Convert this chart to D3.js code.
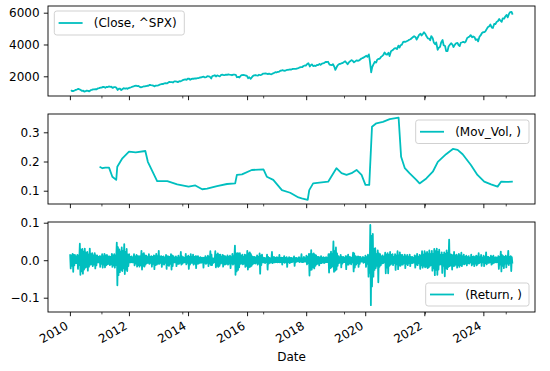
<!DOCTYPE html>
<html><head><meta charset="utf-8">
<script src="https://cdn.jsdelivr.net/npm/d3@7"></script>
<style>body{margin:0;background:#fff} svg text{font-family:"DejaVu Sans",sans-serif;}</style>
</head><body><svg id="c" width="550" height="371"></svg>
<script>
// ---------------- DATA ----------------
const firstDate = "2010-01-04", lastDate = "2024-12-31";
const startYear = 2010;
// S&P 500 close, two readings per month [mid, end], one row per year 2010..2024
const closeSPX = [
 [1136,1074],[1075,1104],[1150,1169],[1211,1187],[1136,1089],[1092,1031],[1065,1102],[1079,1049],[1125,1141],[1176,1183],[1199,1181],[1242,1258],
 [1293,1286],[1332,1327],[1281,1326],[1320,1364],[1338,1345],[1268,1321],[1316,1292],[1140,1219],[1216,1131],[1200,1253],[1216,1247],[1212,1258],
 [1290,1312],[1351,1366],[1403,1408],[1385,1398],[1330,1310],[1330,1362],[1360,1379],[1405,1407],[1460,1441],[1433,1412],[1370,1416],[1418,1426],
 [1472,1498],[1520,1515],[1560,1569],[1552,1598],[1650,1631],[1640,1606],[1680,1686],[1661,1633],[1688,1682],[1721,1757],[1791,1806],[1781,1848],
 [1845,1783],[1838,1859],[1846,1872],[1862,1884],[1888,1924],[1937,1960],[1973,1931],[1955,2003],[1999,1972],[1862,2018],[2039,2068],[1990,2059],
 [2020,1995],[2096,2105],[2081,2068],[2106,2086],[2123,2107],[2096,2063],[2107,2104],[2091,1940],[1966,1920],[2033,2079],[2083,2080],[2043,2044],
 [1880,1940],[1840,1932],[2027,2060],[2081,2065],[2047,2097],[2071,2099],[2163,2174],[2185,2171],[2139,2168],[2133,2126],[2180,2199],[2262,2239],
 [2275,2279],[2349,2364],[2385,2363],[2349,2384],[2400,2412],[2437,2423],[2459,2470],[2465,2472],[2500,2519],[2557,2575],[2585,2648],[2680,2674],
 [2776,2824],[2620,2714],[2750,2641],[2670,2648],[2720,2705],[2780,2718],[2800,2816],[2840,2902],[2900,2914],[2750,2712],[2700,2760],[2600,2400],
 [2600,2704],[2775,2784],[2822,2834],[2905,2946],[2850,2752],[2890,2942],[3014,2980],[2880,2926],[3005,2977],[2990,3038],[3120,3141],[3190,3231],
 [3290,3226],[3380,2954],[2250,2585],[2780,2912],[2860,3044],[3100,3100],[3220,3271],[3370,3500],[3380,3363],[3480,3270],[3580,3622],[3690,3756],
 [3770,3714],[3930,3811],[3960,3973],[4170,4181],[4170,4204],[4250,4298],[4330,4395],[4470,4523],[4460,4308],[4470,4605],[4680,4567],[4670,4766],
 [4660,4516],[4380,4374],[4260,4530],[4390,4132],[4010,4132],[3670,3785],[3860,4130],[4280,3955],[3900,3586],[3580,3872],[4000,4080],[3990,3840],
 [3990,4077],[4100,3970],[3900,4109],[4140,4169],[4120,4180],[4410,4450],[4510,4589],[4460,4508],[4450,4288],[4330,4194],[4500,4568],[4720,4770],
 [4780,4846],[5000,5096],[5150,5254],[5060,5036],[5300,5278],[5430,5460],[5600,5522],[5430,5648],[5630,5762],[5860,5705],[5950,6032],[6050,5882]
];
// rolling annualised volatility readings [date, value]
const movVol = [
 ["2011-01-03",0.182],["2011-02-07",0.177],["2011-03-15",0.179],["2011-04-30",0.179],["2011-06-10",0.148],["2011-07-28",0.137],
 ["2011-08-10",0.182],["2011-10-12",0.211],["2012-01-02",0.234],["2012-03-25",0.231],["2012-07-22",0.236],["2012-08-22",0.199],
 ["2012-12-15",0.133],["2013-04-20",0.133],["2013-08-20",0.122],["2014-01-08",0.114],["2014-04-01",0.118],["2014-06-25",0.105],
 ["2014-08-25",0.107],["2014-12-25",0.116],["2015-04-28",0.123],["2015-08-07",0.125],["2015-08-28",0.154],["2015-10-30",0.156],
 ["2016-02-28",0.171],["2016-07-22",0.173],["2016-09-01",0.148],["2016-11-20",0.137],["2017-03-07",0.102],["2017-06-17",0.093],
 ["2017-09-28",0.077],["2017-11-07",0.074],["2018-01-20",0.069],["2018-02-08",0.102],["2018-03-28",0.125],["2018-09-30",0.131],
 ["2019-01-10",0.177],["2019-03-14",0.160],["2019-05-15",0.154],["2019-07-16",0.160],["2019-09-16",0.171],["2019-11-17",0.154],
 ["2020-01-04",0.120],["2020-02-20",0.120],["2020-03-25",0.319],["2020-05-18",0.331],["2020-08-07",0.336],["2020-10-30",0.345],
 ["2021-02-17",0.350],["2021-03-20",0.216],["2021-05-05",0.177],["2021-07-01",0.160],["2021-09-24",0.137],["2021-11-03",0.125],
 ["2022-01-26",0.142],["2022-04-16",0.165],["2022-06-17",0.199],["2022-09-27",0.225],["2022-12-20",0.243],["2023-02-17",0.240],
 ["2023-04-20",0.225],["2023-07-31",0.188],["2023-10-20",0.154],["2024-01-12",0.131],["2024-04-05",0.122],["2024-06-25",0.114],
 ["2024-08-07",0.131],["2024-10-08",0.130],["2024-12-30",0.131]
];
// daily return readings in %, four per month (weekly), one row per year
const returnPct = [
 1.6,-2.2,1.3,-1.5, 1.7,-3.1,1.4,-1.4, 1.4,-0.8,1.0,-0.8, 1.4,-2.3,1.2,-1.3, 4.4,-3.9,2.8,-3.0, 3.0,-3.6,2.3,-2.5, 3.1,-2.0,2.0,-1.8, 2.2,-2.8,1.5,-1.7, 3.1,-1.2,1.6,-1.1, 1.9,-1.6,1.3,-1.2, 1.9,-2.2,1.3,-1.4, 1.3,-0.6,0.9,-0.6,
 1.1,-1.8,1.0,-1.0, 1.6,-2.0,1.0,-1.2, 1.7,-1.9,1.3,-1.4, 1.4,-1.1,1.0,-1.0, 1.0,-1.3,0.9,-1.1, 1.7,-1.8,1.3,-1.4, 1.6,-2.0,1.2,-1.3, 4.7,-6.7,3.5,-4.0, 2.9,-3.2,2.3,-2.6, 3.4,-2.9,2.5,-2.2, 4.3,-3.7,2.2,-2.5, 3.0,-2.9,1.5,-1.6,
 1.6,-0.6,0.9,-0.6, 1.0,-0.6,0.7,-0.6, 1.6,-1.4,1.0,-0.9, 1.4,-1.7,1.1,-1.3, 1.1,-1.7,1.0,-1.3, 2.5,-2.5,1.6,-1.5, 1.9,-1.7,1.3,-1.2, 1.2,-0.8,0.8,-0.7, 1.6,-1.0,0.9,-0.7, 1.1,-1.7,0.9,-1.0, 1.3,-2.4,1.1,-1.3, 1.7,-1.2,1.0,-0.9,
 2.5,-1.0,1.0,-0.7, 1.1,-1.8,0.9,-1.0, 1.0,-1.2,0.7,-0.7, 1.4,-2.3,1.1,-1.3, 1.0,-1.5,0.9,-1.0, 1.6,-2.5,1.3,-1.6, 1.1,-0.6,0.7,-0.6, 1.0,-1.6,0.7,-1.0, 1.2,-1.0,0.7,-0.7, 2.2,-1.2,1.0,-0.9, 0.8,-0.6,0.6,-0.6, 1.7,-1.1,0.9,-0.7,
 1.2,-2.3,0.9,-1.2, 1.6,-0.7,0.9,-0.7, 1.5,-1.2,0.9,-0.9, 1.1,-2.1,1.0,-1.0, 1.1,-0.9,0.7,-0.7, 0.8,-0.7,0.6,-0.6, 0.7,-2.0,0.6,-0.7, 1.1,-1.0,0.7,-0.7, 1.2,-1.6,0.9,-0.9, 2.4,-1.3,1.5,-1.3, 0.5,-0.7,0.5,-0.5, 2.4,-1.9,1.5,-1.5,
 1.8,-1.8,1.5,-1.5, 1.5,-0.9,0.9,-0.7, 1.4,-1.7,1.2,-1.2, 1.1,-1.1,0.8,-0.9, 1.3,-1.2,0.9,-0.9, 1.2,-2.1,0.8,-0.9, 1.7,-1.2,1.0,-0.9, 3.9,-3.9,1.8,-3.0, 1.9,-2.6,1.8,-1.9, 1.9,-1.0,1.2,-0.9, 1.5,-1.1,0.9,-0.9, 1.5,-1.8,1.3,-1.5,
 2.5,-2.5,1.8,-1.9, 2.1,-1.7,1.6,-1.5, 1.0,-1.1,0.9,-0.8, 0.9,-0.9,0.7,-0.7, 1.3,-1.2,0.9,-0.9, 1.8,-3.6,1.2,-1.3, 1.5,-0.6,0.7,-0.6, 0.6,-0.8,0.5,-0.5, 1.5,-2.5,0.9,-0.9, 0.6,-0.7,0.5,-0.6, 2.2,-0.8,0.9,-0.6, 0.8,-0.6,0.6,-0.5,
 0.8,-0.6,0.6,-0.5, 1.4,-0.6,0.6,-0.5, 0.7,-1.2,0.6,-0.5, 1.1,-0.7,0.6,-0.5, 0.8,-1.8,0.5,-0.5, 0.8,-0.8,0.6,-0.6, 0.6,-0.5,0.5,-0.4, 1.0,-1.5,0.6,-0.6, 0.6,-0.3,0.5,-0.3, 0.8,-0.5,0.5,-0.4, 1.6,-0.5,0.5,-0.5, 0.9,-0.4,0.5,-0.4,
 1.2,-1.1,0.9,-0.8, 1.7,-4.1,1.6,-2.6, 2.7,-2.5,1.6,-1.9, 1.8,-2.2,1.5,-1.5, 1.3,-1.1,0.9,-0.9, 0.9,-1.4,0.7,-0.8, 1.1,-0.8,0.7,-0.6, 0.8,-0.8,0.6,-0.6, 0.8,-0.5,0.6,-0.5, 1.6,-3.3,1.6,-2.1, 2.3,-1.9,1.6,-1.6, 5.0,-3.1,2.4,-2.8,
 3.4,-2.5,1.8,-1.5, 1.1,-0.8,0.7,-0.6, 1.4,-1.9,0.9,-0.9, 0.9,-0.5,0.6,-0.5, 1.1,-2.4,1.0,-1.2, 1.5,-1.2,0.9,-0.8, 0.8,-1.1,0.6,-0.6, 2.0,-3.0,1.8,-2.0, 1.1,-1.2,0.8,-0.8, 1.0,-1.8,0.9,-1.0, 0.9,-0.4,0.5,-0.4, 0.9,-0.7,0.6,-0.5,
 1.2,-1.8,0.8,-1.0, 1.5,-4.4,1.2,-3.4, 9.4,-12.0,6.5,-7.0, 7.0,-4.4,3.0,-2.6, 3.2,-2.1,1.6,-1.5, 2.6,-5.9,1.8,-1.8, 1.6,-1.4,1.0,-0.9, 1.3,-0.8,0.9,-0.6, 2.0,-3.5,1.5,-2.0, 1.9,-3.5,1.4,-1.5, 2.2,-1.2,1.4,-0.9, 1.6,-1.3,0.9,-0.8,
 1.6,-2.6,1.2,-1.1, 2.4,-2.4,1.2,-1.4, 2.1,-1.5,1.4,-1.2, 1.4,-1.2,0.8,-0.8, 1.5,-2.1,1.0,-1.0, 1.4,-1.3,0.8,-0.8, 1.5,-1.6,0.9,-0.8, 0.9,-0.8,0.6,-0.6, 1.3,-2.0,1.0,-1.2, 1.7,-1.3,0.9,-0.8, 1.4,-2.3,1.2,-1.4, 2.4,-2.0,1.5,-1.5,
 2.4,-1.9,1.8,-1.7, 2.2,-2.1,1.6,-1.9, 2.6,-1.5,1.6,-1.3, 2.5,-2.8,1.6,-2.2, 3.0,-4.0,2.4,-2.6, 3.1,-3.9,2.2,-2.5, 2.8,-1.2,1.4,-1.1, 2.1,-3.4,1.4,-1.5, 2.1,-4.3,1.7,-2.1, 2.6,-2.4,1.9,-1.8, 5.5,-1.6,1.6,-1.3, 1.5,-2.5,1.3,-1.6,
 2.2,-1.5,1.3,-1.2, 1.5,-2.0,1.0,-1.3, 1.7,-1.8,1.3,-1.3, 2.0,-1.6,1.0,-1.0, 1.5,-1.1,0.9,-0.9, 1.2,-1.4,0.8,-0.8, 1.1,-0.9,0.6,-0.6, 1.5,-1.4,0.9,-1.0, 1.0,-1.6,0.8,-0.9, 1.2,-1.4,1.0,-1.0, 1.9,-0.8,0.8,-0.6, 1.4,-1.5,0.7,-0.6,
 1.2,-1.6,0.8,-0.8, 2.1,-1.1,0.9,-0.7, 0.9,-0.7,0.6,-0.6, 1.2,-1.2,0.9,-0.9, 1.2,-0.7,0.7,-0.6, 0.8,-0.6,0.6,-0.5, 1.1,-2.3,0.9,-1.2, 2.3,-3.0,1.4,-1.5, 1.1,-2.1,0.9,-0.9, 1.2,-1.9,0.8,-0.9, 2.5,-1.3,0.9,-0.8, 1.1,-2.9,0.8,-0.9
];
const closeTicks = [2000, 4000, 6000];
const volTicks = [0.1, 0.2, 0.3];
const retTicks = [-0.1, 0.0, 0.1];
const yearTicks = [2010, 2012, 2014, 2016, 2018, 2020, 2022, 2024];
const minorDayTicks = [15000, 16000, 17000, 18000, 19000, 20000]; // days since 1970-01-01
const closeLimits = [761, 6421];
const volLimits = [0.0545, 0.3627];
const retLimits = [-0.1381, 0.1019];
const legendLabels = ["(Close, ^SPX)", "(Mov_Vol, )", "(Return, )"];
const xLabel = "Date";

// ---------------- CHART ----------------
const color = "#00bfbf";
const svg = d3.select("#c");
const L = 48, R = 535;
const panels = [{top: 6, bottom: 96}, {top: 114, bottom: 204}, {top: 222, bottom: 312}];
const parse = d3.utcParse("%Y-%m-%d");
const d0 = parse(firstDate), d1 = parse(lastDate);
const span = d1 - d0;
const x = d3.scaleUtc().domain([new Date(+d0 - span * 0.05), new Date(+d1 + span * 0.05)]).range([L, R]);

const closeData = [];
closeSPX.forEach((pair, i) => {
  const yr = startYear + Math.floor(i / 12), m = i % 12;
  closeData.push({d: new Date(Date.UTC(yr, m, 15)), v: pair[0]});
  closeData.push({d: new Date(Date.UTC(yr, m, 28)), v: pair[1]});
});
const volData = movVol.map(([d, v]) => ({d: parse(d), v}));
const retData = returnPct.map((v, i) => {
  const mi = Math.floor(i / 4), k = i % 4;
  const yr = startYear + Math.floor(mi / 12), m = mi % 12;
  return {d: new Date(Date.UTC(yr, m, 4 + 7 * k)), v: v / 100};
});

const specs = [
  {data: closeData, lim: closeLimits, ticks: closeTicks, fmt: d3.format("d")},
  {data: volData, lim: volLimits, ticks: volTicks, fmt: d3.format(".1f")},
  {data: retData, lim: retLimits, ticks: retTicks, fmt: d3.format(".1f")}
];

const majorDates = yearTicks.map(y => new Date(Date.UTC(y, 0, 1)));
const minorDates = minorDayTicks.map(n => new Date(n * 86400000));

specs.forEach((s, i) => {
  const p = panels[i];
  const y = d3.scaleLinear().domain(s.lim).range([p.bottom, p.top]);
  const g = svg.append("g");
  g.append("path").datum(s.data)
    .attr("fill", "none").attr("stroke", color).attr("stroke-width", 1.8)
    .attr("stroke-linejoin", "round")
    .attr("d", d3.line().x(d => x(d.d)).y(d => y(d.v)));
  const ya = g.append("g").attr("transform", `translate(${L},0)`)
    .call(d3.axisLeft(y).tickValues(s.ticks).tickFormat(s.fmt).tickSize(4.2).tickPadding(4.2));
  ya.select(".domain").remove();
  ya.selectAll("line").attr("stroke", "#000").attr("stroke-width", 0.9);
  ya.selectAll("text").attr("font-size", 12).attr("fill", "#000").attr("font-family", "DejaVu Sans");
  const xa = g.append("g").attr("transform", `translate(0,${p.bottom})`)
    .call(d3.axisBottom(x).tickValues(majorDates).tickFormat(d3.utcFormat("%Y")).tickSize(4.2).tickPadding(4.2));
  xa.select(".domain").remove();
  xa.selectAll("line").attr("stroke", "#000").attr("stroke-width", 0.9);
  if (i < 2) {
    xa.selectAll("text").remove();
  } else {
    xa.selectAll("text")
      .attr("font-size", 12).attr("fill", "#000").attr("font-family", "DejaVu Sans")
      .attr("text-anchor", "end").attr("x", 0).attr("y", 0).attr("dy", 0)
      .attr("transform", "translate(-1.4,16.3) rotate(-30)");
  }
  const xm = g.append("g").attr("transform", `translate(0,${p.bottom})`)
    .call(d3.axisBottom(x).tickValues(minorDates).tickFormat("").tickSize(2.4));
  xm.select(".domain").remove();
  xm.selectAll("line").attr("stroke", "#000").attr("stroke-width", 0.7);
  g.append("rect").attr("x", L).attr("y", p.top).attr("width", R - L).attr("height", p.bottom - p.top)
    .attr("fill", "none").attr("stroke", "#000").attr("stroke-width", 0.9);
});

const legends = [
  {x: 54.3, y: 11, w: 130, h: 24, label: legendLabels[0]},
  {x: 415.7, y: 120, w: 113.3, h: 23.5, label: legendLabels[1]},
  {x: 425.7, y: 283, w: 103.3, h: 23, label: legendLabels[2]}
];
legends.forEach(l => {
  const g = svg.append("g");
  g.append("rect").attr("x", l.x).attr("y", l.y).attr("width", l.w).attr("height", l.h)
    .attr("rx", 2.5).attr("fill", "#fff").attr("fill-opacity", 0.8).attr("stroke", "#cccccc").attr("stroke-width", 0.9);
  const cy = l.y + l.h / 2;
  g.append("line").attr("x1", l.x + 4.3).attr("x2", l.x + 28.3).attr("y1", cy).attr("y2", cy)
    .attr("stroke", color).attr("stroke-width", 1.8);
  g.append("text").attr("x", l.x + 39.5).attr("y", cy + 4.3).attr("font-size", 12).attr("fill", "#000")
    .text(l.label);
});

svg.append("text").attr("x", (L + R) / 2).attr("y", 361).attr("text-anchor", "middle")
  .attr("font-size", 12).attr("fill", "#000").text(xLabel);
</script></body></html>
